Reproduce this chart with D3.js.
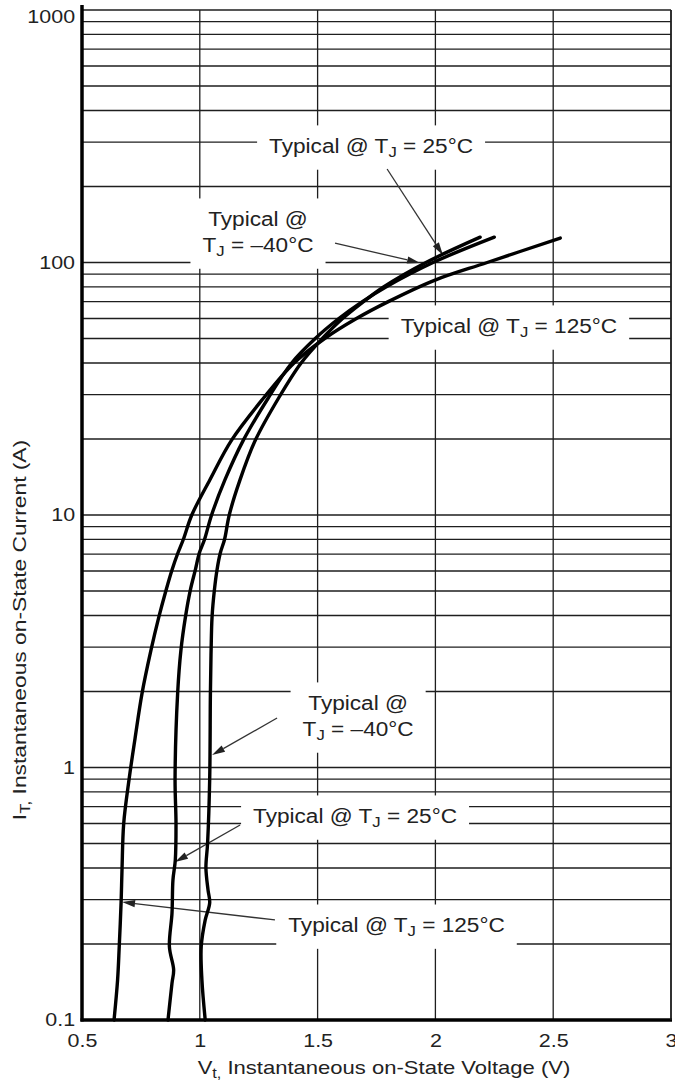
<!DOCTYPE html>
<html><head><meta charset="utf-8">
<script src="https://cdn.jsdelivr.net/npm/d3@7"></script>
<style>body{margin:0;background:#fff} svg{display:block}</style>
</head><body>
<svg id="chart" width="675" height="1082"></svg>
<script>
// ---------- data ----------
const VOLTAGE_TICKS = [0.5, 1, 1.5, 2, 2.5, 3];
const VOLTAGE_TICK_LABELS = ["0.5", "1", "1.5", "2", "2.5", "3"];
const CURRENT_TICKS = [0.1, 1, 10, 100, 1000];
const CURRENT_TICK_LABELS = ["0.1", "1", "10", "100", "1000"];

// Typical @ TJ = 125°C
const v125 = [0.636,0.651,0.658,0.666,0.670,0.677,0.700,0.725,0.755,0.793,0.826,0.857,0.882,0.907,0.930,0.966,1.043,1.135,1.270,1.400,1.530,1.665,1.800,1.996,2.220,2.530];
const i125 = [0.1,0.144,0.195,0.293,0.4,0.6,0.9,1.3,1.97,2.92,3.94,5.05,6.06,7.07,8,10,13.8,19.8,29,40,50,60,70,85,100,125];
// Typical @ TJ = 25°C
const v25 = [0.865,0.882,0.889,0.871,0.882,0.886,0.896,0.899,0.895,0.906,0.920,0.939,0.960,0.981,0.998,1.020,1.050,1.107,1.185,1.290,1.390,1.490,1.590,1.690,1.790,1.990,2.250];
const i25 = [0.1,0.14,0.158,0.195,0.265,0.358,0.43,0.6,0.9,1.97,2.92,3.94,5.05,6.06,7.07,8,10,13.8,19.8,29,40,50,60,70,80,100,126];
// Typical @ TJ = -40°C
const vm40 = [1.023,1.009,1.006,1.023,1.042,1.035,1.026,1.033,1.042,1.045,1.048,1.052,1.062,1.073,1.087,1.105,1.125,1.171,1.236,1.334,1.430,1.520,1.606,1.695,1.780,1.960,2.190];
const im40 = [0.1,0.144,0.195,0.249,0.291,0.327,0.4,0.5,0.9,1.97,2.92,3.94,5.05,6.06,7.07,8,10,13.8,19.8,29,40,50,60,70,80,100,126];

// annotation labels (data coordinates of text centre / first baseline)
const LABEL_TEXTS = [
  [["Typical @ T","J"," = 25°C"]],
  [["Typical @"],["T","J"," = \u201340°C"]],
  [["Typical @ T","J"," = 125°C"]],
  [["Typical @"],["T","J"," = \u201340°C"]],
  [["Typical @ T","J"," = 25°C"]],
  [["Typical @ T","J"," = 125°C"]]
];
const LABEL_V = [1.727, 1.247, 2.312, 1.672, 1.659, 1.835];
const LABEL_I = [271.6, 139.5, 52.6, 1.69, 0.603, 0.223];
// arrows: from (V,I) to tip (V,I)
const ARROW_FROM_V = [1.795, 1.574, 1.328, 1.171, 1.319];
const ARROW_FROM_I = [234.6, 119.4, 1.57, 0.592, 0.249];
const ARROW_TO_V   = [2.032, 1.935, 1.052, 0.895, 0.670];
const ARROW_TO_I   = [107, 99.6, 1.12, 0.422, 0.293];

// ---------- layout ----------
const FONT = "'Liberation Sans', Arial, Helvetica, sans-serif";
const SX = 1.16;        // horizontal stretch of the reference lettering
const svg = d3.select("#chart");
const x = d3.scaleLinear().domain([0.5, 3]).range([82, 671]);
const y = d3.scaleLog().domain([0.1, 1000]).range([1020, 10]);

// ---------- grid ----------
const grid = svg.append("g");
grid.selectAll("line.h").data(y.ticks()).join("line")
  .attr("x1", x(0.5)).attr("x2", x(3))
  .attr("y1", d => y(d)).attr("y2", d => y(d))
  .attr("stroke", "#1e1e1e").attr("stroke-width", 1.3);
grid.selectAll("line.v").data(VOLTAGE_TICKS.slice(1)).join("line")
  .attr("x1", d => x(d)).attr("x2", d => x(d))
  .attr("y1", y(1000)).attr("y2", y(0.1))
  .attr("stroke", "#1e1e1e").attr("stroke-width", 1.3);

// ---------- labels with white boxes ----------
function drawLabel(parent, lines, cx, by, size) {
  const g = parent.append("g").attr("transform", `translate(${cx},${by})`);
  const inner = g.append("g").attr("transform", `scale(${SX},1)`);
  lines.forEach((parts, li) => {
    const t = inner.append("text").attr("x", 0).attr("y", li * 26)
      .attr("text-anchor", "middle").attr("font-family", FONT)
      .attr("font-size", size).attr("fill", "#222");
    parts.forEach((p, k) => {
      const sub = (k === 1);
      const ts = t.append("tspan").text(p);
      if (sub) ts.attr("font-size", size * 0.74).attr("dy", 4);
      else if (k === 2) ts.attr("dy", -4);
    });
  });
  const bb = g.node().getBBox();
  g.insert("rect", ":first-child")
    .attr("x", bb.x - 12).attr("y", bb.y - 10)
    .attr("width", bb.width + 24).attr("height", bb.height + 20)
    .attr("fill", "#fff");
  return g;
}
const labels = svg.append("g");
LABEL_TEXTS.forEach((lines, k) => drawLabel(labels, lines, x(LABEL_V[k]), y(LABEL_I[k]), 19.5));

// ---------- arrows ----------
const arrows = svg.append("g");
ARROW_FROM_V.forEach((_, k) => {
  const x1 = x(ARROW_FROM_V[k]), y1 = y(ARROW_FROM_I[k]);
  const x2 = x(ARROW_TO_V[k]), y2 = y(ARROW_TO_I[k]);
  const dx = x2 - x1, dy = y2 - y1, len = Math.hypot(dx, dy);
  const ux = dx / len, uy = dy / len, L = 13, w = 3.6;
  const bx = x2 - ux * L, by = y2 - uy * L;
  arrows.append("line").attr("x1", x1).attr("y1", y1).attr("x2", bx).attr("y2", by)
    .attr("stroke", "#333").attr("stroke-width", 1.3);
  arrows.append("path")
    .attr("d", `M${x2},${y2}L${bx - uy * w},${by + ux * w}L${bx + uy * w},${by - ux * w}Z`)
    .attr("fill", "#222");
});

// ---------- curves ----------
const line = d3.line().x(d => x(d[0])).y(d => y(d[1])).curve(d3.curveCatmullRom.alpha(0.5));
const series = [d3.zip(v125, i125), d3.zip(v25, i25), d3.zip(vm40, im40)];
svg.append("g").selectAll("path").data(series).join("path")
  .attr("d", line).attr("fill", "none").attr("stroke", "#000")
  .attr("stroke-width", 3.4).attr("stroke-linejoin", "round").attr("stroke-linecap", "round");

// ---------- axes ----------
const xAxis = svg.append("g").attr("transform", `translate(0,${y(0.1)})`)
  .call(d3.axisBottom(x).tickValues(VOLTAGE_TICKS)
    .tickFormat((d, i) => VOLTAGE_TICK_LABELS[i]).tickSize(0).tickPadding(14));
xAxis.select(".domain").remove();
xAxis.selectAll("text").attr("font-family", FONT).attr("font-size", 18.5)
  .attr("fill", "#222").attr("transform", `scale(${SX},1)`);

const yAxis = svg.append("g").attr("transform", `translate(${x(0.5)},0)`)
  .call(d3.axisLeft(y).tickValues(CURRENT_TICKS)
    .tickFormat((d, i) => CURRENT_TICK_LABELS[i]).tickSize(0).tickPadding(6));
yAxis.select(".domain").remove();
yAxis.selectAll("text").attr("font-family", FONT).attr("font-size", 18.5)
  .attr("fill", "#222").attr("transform", `scale(${SX},1)`)
  .attr("y", d => d === 1000 ? 7 : 0);

// frame lines
svg.append("line").attr("x1", x(0.5)).attr("x2", x(0.5)).attr("y1", 5).attr("y2", y(0.1) + 1.5)
  .attr("stroke", "#000").attr("stroke-width", 3.5);
svg.append("line").attr("x1", x(0.5) - 1.5).attr("x2", x(3) + 1).attr("y1", y(0.1)).attr("y2", y(0.1))
  .attr("stroke", "#000").attr("stroke-width", 3.5);
svg.append("line").attr("x1", x(3)).attr("x2", x(3)).attr("y1", y(1000)).attr("y2", y(0.1))
  .attr("stroke", "#1e1e1e").attr("stroke-width", 1.5);

// axis titles
const xt = svg.append("g").attr("transform", `translate(384,1074) scale(${SX},1)`)
  .append("text").attr("text-anchor", "middle").attr("font-family", FONT)
  .attr("font-size", 19).attr("fill", "#222");
xt.append("tspan").text("V");
xt.append("tspan").text("t,").attr("font-size", 14).attr("dy", 4);
xt.append("tspan").text(" Instantaneous on-State Voltage (V)").attr("dy", -4);

const yt = svg.append("g").attr("transform", `translate(26,630) rotate(-90) scale(1.2,1)`)
  .append("text").attr("text-anchor", "middle").attr("font-family", FONT)
  .attr("font-size", 19).attr("fill", "#222");
yt.append("tspan").text("I");
yt.append("tspan").text("T,").attr("font-size", 14).attr("dy", 4);
yt.append("tspan").text(" Instantaneous on-State Current (A)").attr("dy", -4);
</script>
</body></html>
